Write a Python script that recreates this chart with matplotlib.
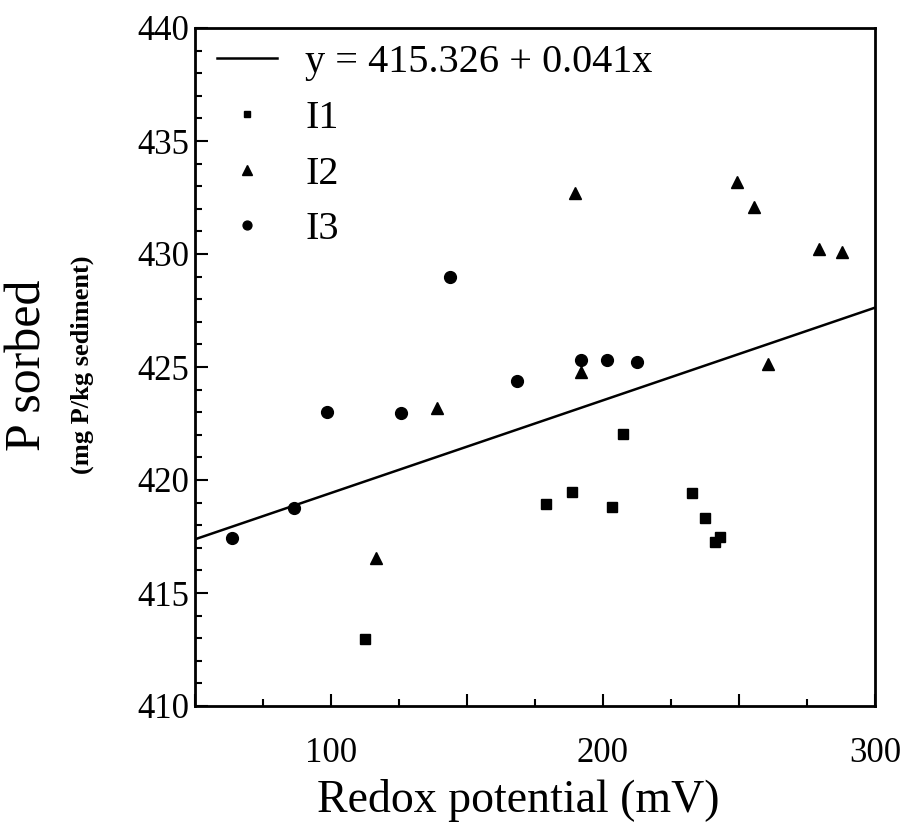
import matplotlib
matplotlib.use("Agg")
import matplotlib.pyplot as plt
import numpy as np
from matplotlib.ticker import MultipleLocator, FuncFormatter

# ---- data ----
i1_x = [112.5, 178.9, 188.5, 203.2, 207.5, 232.6, 237.5, 241.2, 243.0]
i1_y = [412.95, 418.94, 419.48, 418.79, 422.04, 419.41, 418.30, 417.27, 417.49]

i2_x = [116.5, 138.8, 189.8, 191.9, 249.4, 255.6, 260.8, 279.4, 287.8]
i2_y = [416.56, 423.17, 432.69, 424.80, 433.17, 432.10, 425.12, 430.20, 430.07]

i3_x = [63.5, 86.4, 98.4, 125.7, 143.75, 168.5, 191.9, 201.6, 212.4]
i3_y = [417.42, 418.75, 423.02, 422.95, 428.98, 424.40, 425.30, 425.30, 425.24]

intercept = 415.326
slope = 0.041
fit_label = "y = 415.326 + 0.041x"
x_labels = {100: "100", 200: "200", 300: "300"}

plt.rcParams['font.family'] = ['Liberation Serif', 'DejaVu Serif']

fig = plt.figure(figsize=(9.08, 8.39), dpi=100)
ax = fig.add_axes([195/908, 1-706/839, 680/908, 678/839])

xl = np.array([50, 300])
ax.plot(xl, intercept + slope * xl, color='black', lw=1.8, label=fit_label)
ax.plot(i1_x, i1_y, linestyle='none', marker='s', ms=6.5, color='black', label='I1')
ax.plot(i2_x, i2_y, linestyle='none', marker='^', ms=9, color='black', label='I2')
ax.plot(i3_x, i3_y, linestyle='none', marker='o', ms=8.5, color='black', label='I3')

ax.set_xlim(50, 300)
ax.set_ylim(410, 440)

ax.xaxis.set_major_locator(MultipleLocator(50))
ax.xaxis.set_minor_locator(MultipleLocator(25))
ax.xaxis.set_major_formatter(FuncFormatter(lambda v, p: x_labels.get(int(round(v)), "")))
ax.yaxis.set_major_locator(MultipleLocator(5))
ax.yaxis.set_minor_locator(MultipleLocator(1))

ax.tick_params(which='both', direction='in', top=False, right=False, labelsize=25, width=1.5)
ax.tick_params(which='major', length=9)
ax.tick_params(which='minor', length=5)
ax.tick_params(axis='y', pad=4)
ax.tick_params(axis='x', pad=22)

for s in ax.spines.values():
    s.set_linewidth(2)

ax.set_xlabel("Redox potential (mV)", fontsize=33)
ax.xaxis.set_label_coords(0.476, -0.107)
fig.text(28/908, 1-365/839, "P sorbed", rotation=90, fontsize=36, ha='center', va='center')
fig.text(82/908, 1-365/839, "(mg P/kg sediment)", rotation=90, fontsize=19, fontweight='bold',
         ha='center', va='center')

leg = ax.legend(loc='upper left', frameon=False, fontsize=29, handlelength=1.5,
                handletextpad=0.7, labelspacing=0.46, borderaxespad=0.0, markerscale=0.75,
                bbox_to_anchor=(0.008, 1.0))

fig.savefig("out.png", dpi=100)
